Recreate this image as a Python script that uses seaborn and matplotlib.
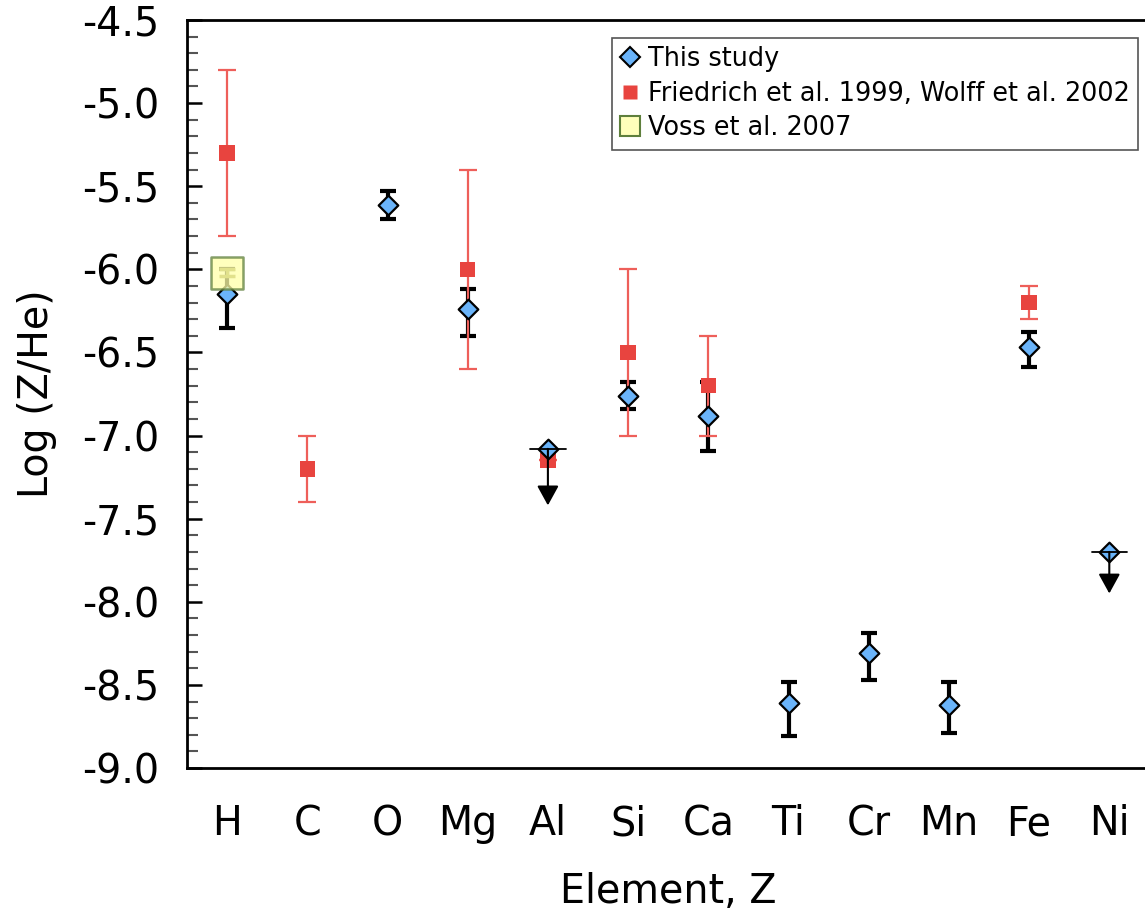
import numpy as np
import pandas as pd
import matplotlib
matplotlib.use("Agg")
import matplotlib.pyplot as plt
from matplotlib.lines import Line2D
from matplotlib.ticker import MultipleLocator, FormatStrFormatter
import seaborn as sns

# Element order along the x axis
elements = ["H", "C", "O", "Mg", "Al", "Si", "Ca", "Ti", "Cr", "Mn", "Fe", "Ni"]

# This study: measured abundances with asymmetric errors
study_el = ["H", "O", "Mg", "Si", "Ca", "Ti", "Cr", "Mn", "Fe"]
study_val = [-6.15, -5.61, -6.24, -6.76, -6.88, -8.61, -8.31, -8.62, -6.47]
study_err_lo = [0.20, 0.09, 0.16, 0.08, 0.21, 0.20, 0.16, 0.17, 0.12]
study_err_hi = [0.15, 0.08, 0.12, 0.08, 0.20, 0.13, 0.12, 0.14, 0.09]

# This study: upper limits
limit_el = ["Al", "Ni"]
limit_val = [-7.08, -7.70]
limit_len = [0.34, 0.25]

# Friedrich et al. 1999, Wolff et al. 2002
fw_el = ["H", "C", "Mg", "Al", "Si", "Ca", "Fe"]
fw_val = [-5.30, -7.20, -6.00, -7.15, -6.50, -6.70, -6.20]
fw_err = [0.50, 0.20, 0.60, 0.00, 0.50, 0.30, 0.10]

# Voss et al. 2007
voss_el = ["H"]
voss_val = [-6.02]
voss_err = [0.02]

xpos = {e: i for i, e in enumerate(elements)}

study = pd.DataFrame({"el": study_el, "x": [xpos[e] for e in study_el], "val": study_val,
                      "lo": study_err_lo, "hi": study_err_hi})
limits = pd.DataFrame({"el": limit_el, "x": [xpos[e] for e in limit_el], "val": limit_val,
                       "len": limit_len})
fw = pd.DataFrame({"el": fw_el, "x": [xpos[e] for e in fw_el], "val": fw_val, "err": fw_err})
voss = pd.DataFrame({"el": voss_el, "x": [xpos[e] for e in voss_el], "val": voss_val,
                     "err": voss_err})

sns.set_theme(style="ticks")
plt.rcParams["font.family"] = ["DejaVu Sans"]
for key in ["text.color", "axes.labelcolor", "xtick.color", "ytick.color",
            "xtick.labelcolor", "ytick.labelcolor"]:
    plt.rcParams[key] = "black"

blue = "#6AB4FA"
red = "#E8443F"
red_bar = "#EE5F5A"

fig = plt.figure(figsize=(11.45, 9.16), dpi=100)
ax = fig.add_axes([187 / 1145, 1 - 768 / 916, 962.4 / 1145, 748 / 916])

# This study error bars (drawn first, underneath)
ax.errorbar(study["x"], study["val"], yerr=[study["lo"], study["hi"]], fmt="none",
            ecolor="black", elinewidth=3.0, capsize=6, capthick=3.0, zorder=2)

# Friedrich / Wolff values
ax.errorbar(fw["x"], fw["val"], yerr=fw["err"], fmt="none", ecolor=red_bar,
            elinewidth=1.6, capsize=6.5, capthick=1.6, zorder=3)
sns.scatterplot(data=fw, x="x", y="val", marker="s", s=125, color=red,
                edgecolor="none", linewidth=0, ax=ax, zorder=4, legend=False)

# This study markers
sns.scatterplot(data=study, x="x", y="val", marker="D", s=100, color=blue,
                edgecolor="black", linewidth=1.6, ax=ax, zorder=5, legend=False)
sns.scatterplot(data=limits, x="x", y="val", marker="D", s=100, color=blue,
                edgecolor="black", linewidth=1.6, ax=ax, zorder=5, legend=False)

# Upper limits: bar plus downward arrow
for _, r in limits.iterrows():
    ax.plot([r["x"] - 0.22, r["x"] + 0.22], [r["val"], r["val"]], color="black",
            lw=1.3, zorder=6)
    ax.annotate("", xy=(r["x"], r["val"] - r["len"]), xytext=(r["x"], r["val"]),
                arrowprops=dict(arrowstyle="-|>,head_length=1.0,head_width=0.55",
                                color="black", lw=1.5, shrinkA=0, shrinkB=0),
                zorder=6)

# Voss et al. 2007
ax.errorbar(voss["x"], voss["val"], yerr=voss["err"], fmt="none", ecolor="#8C8C3C",
            elinewidth=2.5, capsize=6, capthick=2.5, zorder=7)
sns.scatterplot(data=voss, x="x", y="val", marker="s", s=560, color="#FFFFA8",
                edgecolor="#5E7F3C", linewidth=1.8, alpha=0.75, ax=ax, zorder=8,
                legend=False)

ax.set_xlim(-0.5, 11.5)
ax.set_ylim(-9.0, -4.5)
ax.set_xticks(range(len(elements)))
ax.set_xticklabels(elements)
ax.yaxis.set_major_locator(MultipleLocator(0.5))
ax.yaxis.set_minor_locator(MultipleLocator(0.1))
ax.yaxis.set_major_formatter(FormatStrFormatter("%.1f"))
ax.tick_params(axis="y", which="major", direction="in", length=11, width=1.8,
               color="black", labelsize=28.5, pad=20)
ax.tick_params(axis="y", which="minor", direction="in", length=8, width=1.5,
               color="#555555")
ax.tick_params(axis="x", which="both", length=0, labelsize=28.5, pad=26)
for side in ["left", "bottom", "top"]:
    ax.spines[side].set_linewidth(2)
    ax.spines[side].set_color("black")
ax.spines["right"].set_visible(False)

ax.set_xlabel("Element, Z", fontsize=28.5, labelpad=20)
ax.set_ylabel("Log (Z/He)", fontsize=28.5, labelpad=18)

handles = [
    Line2D([], [], ls="none", marker="D", ms=10, mfc=blue, mec="black", mew=1.5),
    Line2D([], [], ls="none", marker="s", ms=10.5, mfc=red, mec="none"),
    Line2D([], [], ls="none", marker="s", ms=15, mfc="#FFFFBB", mec="#5E7F3C", mew=1.5),
]
labels = ["This study", "Friedrich et al. 1999, Wolff et al. 2002", "Voss et al. 2007"]
leg = ax.legend(handles, labels, loc="upper right", bbox_to_anchor=(0.988, 0.976),
                borderaxespad=0, fontsize=18.4, frameon=True, fancybox=False,
                edgecolor="#555555", framealpha=1, handlelength=0.75,
                handletextpad=0.3, labelspacing=0.33, borderpad=0.33)
leg.get_frame().set_linewidth(1.2)

fig.savefig("out.png", dpi=100)
